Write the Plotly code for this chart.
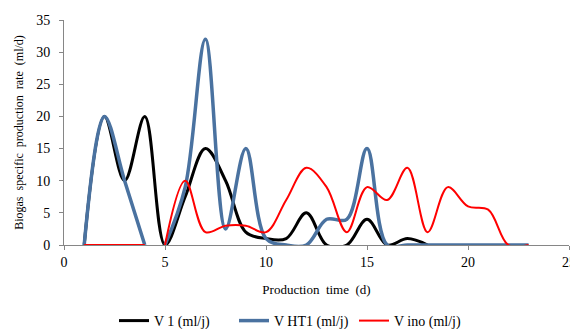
import plotly.graph_objects as go

days = list(range(1, 24))
v1 = [0, 20, 10, 20, 0, 7.5, 15, 10, 2, 1, 1, 5, 0, 0, 4, 0, 1, 0,
      None, None, None, None, None]
vht1 = [0, 20, 10, 0, 0, 9, 32, 2.5, 15, 1, 0, 0, 4, 4, 15, 0, 0, 0,
        0, 0, 0, 0, 0]
vino = [0, 0, 0, 0, 0, 10, 2, 3, 3, 2, 7, 12, 9, 2, 9, 7, 12, 2, 9, 6,
        5.5, 0, 0]
# series with a blank cell between day 4 and day 5
gap_after_day = 4

x_ticks = [0, 5, 10, 15, 20, 25]
y_ticks = [0, 5, 10, 15, 20, 25, 30, 35]


def with_gap(xs, ys, after):
    ox, oy = [], []
    for x, y in zip(xs, ys):
        ox.append(x)
        oy.append(y)
        if x == after:
            ox.append(None)
            oy.append(None)
    return ox, oy


serif = "Liberation Serif"

fig = go.Figure()
fig.add_trace(go.Scatter(x=days, y=v1, mode="lines", name="V 1 (ml/j)",
                         line=dict(color="#000000", width=3, shape="spline"),
                         connectgaps=False))
bx, by = with_gap(days, vht1, gap_after_day)
fig.add_trace(go.Scatter(x=bx, y=by, mode="lines", name="V HT1 (ml/j)",
                         line=dict(color="#4a72a0", width=3.5, shape="spline"),
                         connectgaps=False))
rx, ry = with_gap(days, vino, gap_after_day)
fig.add_trace(go.Scatter(x=rx, y=ry, mode="lines", name="V ino (ml/j)",
                         line=dict(color="#ff0000", width=2, shape="spline"),
                         connectgaps=False))

fig.update_layout(
    width=570, height=329,
    margin=dict(l=64, r=1, t=20, b=84, autoexpand=False),
    paper_bgcolor="white", plot_bgcolor="white",
    font=dict(family=serif, size=14, color="#000000"),
    showlegend=True,
    legend=dict(orientation="h", xref="container", yref="container",
                x=114 / 570, xanchor="left", y=1 - 321 / 329, yanchor="middle",
                font=dict(size=14), itemwidth=30, traceorder="normal",
                entrywidth=75, entrywidthmode="pixels"),
    xaxis=dict(range=[0, 25], tickvals=x_ticks, ticktext=[str(t) for t in x_ticks],
               showgrid=False, zeroline=False, showline=True, linecolor="#868686",
               linewidth=1, ticks="outside", ticklen=4, tickcolor="#868686",
               tickfont=dict(size=14), automargin=False, ticklabeloverflow="allow",
               title=dict(text="Production\u00a0\u00a0time\u00a0\u00a0(d)",
                          font=dict(size=13), standoff=16)),
    yaxis=dict(range=[0, 35], tickvals=y_ticks, ticktext=[str(t) for t in y_ticks],
               showgrid=False, zeroline=False, showline=True, linecolor="#868686",
               linewidth=1, ticks="outside", ticklen=4, tickcolor="#868686",
               tickfont=dict(size=14), ticklabelstandoff=6, automargin=False,
               title=dict(text="Biogas\u00a0\u00a0specific\u00a0\u00a0production\u00a0\u00a0rate\u00a0\u00a0(ml/d)",
                          font=dict(size=12), standoff=10)),
)

fig.write_html("out.html", config={"displayModeBar": False},
               post_script="document.body.style.margin='0';"
                           "document.body.style.overflow='hidden';")
